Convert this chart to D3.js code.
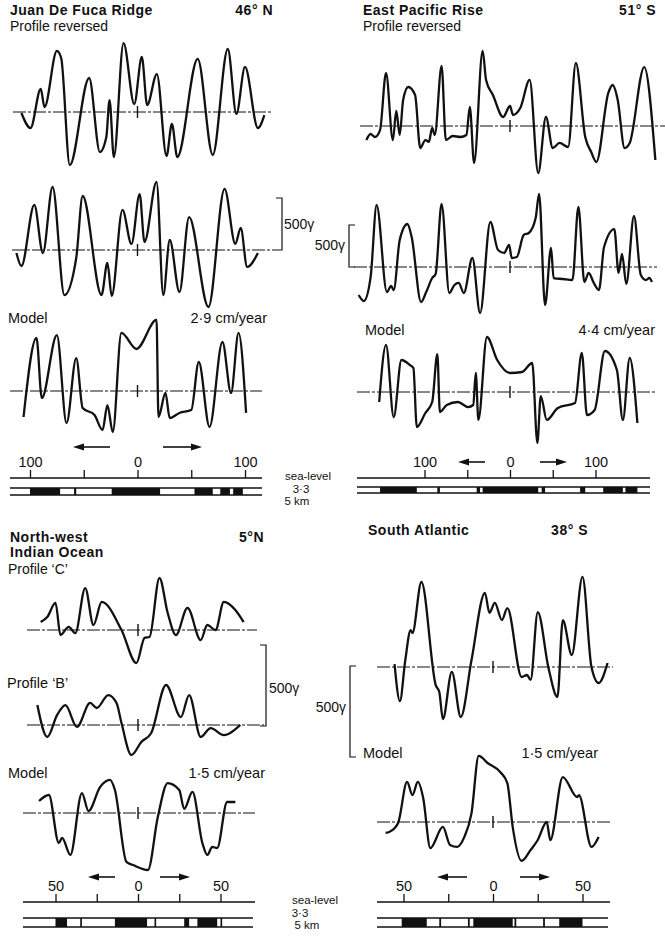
<!DOCTYPE html>
<html>
<head>
<meta charset="utf-8">
<script src="https://cdn.jsdelivr.net/npm/d3@7"></script>
<style>
body { margin: 0; background: #fff; }
text { font-family: "Liberation Sans", Arial, sans-serif; fill: #111; }
</style>
</head>
<body>
<svg id="fig" width="665" height="939"></svg>
<script>
// distances in km from the ridge axis, anomalies in gammas

// Juan de Fuca Ridge, 46 N
var jdfReversed = [[-108,-10],[-99.5,-154],[-90,221],[-86.5,48],[-75,587],[-71,519],[-63,-510],[-45,327],[-35,-385],[-29,-240],[-26,115],[-22,-433],[-13,663],[-3,77],[4,529],[9,67],[18,365],[27,-423],[32,-115],[37,-433],[56,510],[70,-413],[84,606],[92,-19],[100,433],[112,-154],[118,-29]];
var jdfProfile = [[-112.6,-29],[-108,-154],[-96,433],[-88,-29],[-79,606],[-68,-433],[-57,-77],[-51,519],[-33.5,-433],[-28,-125],[-24,-442],[-14,385],[-5.6,58],[2,538],[6.5,77],[17.7,654],[24,-433],[30,96],[39,-404],[48,317],[66,-548],[81,587],[91,58],[96,212],[102,-163],[112,-29]];
var jdfModel = [[-106,-250],[-94,510],[-89,-67],[-75,538],[-66,-308],[-57,317],[-51,-163],[-40,-231],[-32.5,-375],[-28,-135],[-23,-394],[-15,558],[-1,404],[17.7,683],[19.5,-250],[26,-19],[30,-260],[39,-211],[50,-183],[57,279],[67,-346],[79,471],[87,-19],[94,558],[101,-211]];
var jdfNormal = [[-100,-72],[-59,-57],[-24,21],[53,70],[77,86],[89,98]];

// East Pacific Rise, 51 S
var eprReversed = [[-168,-167],[-163,-95],[-158,-131],[-152,-48],[-145,631],[-137,-167],[-133,179],[-129,-107],[-125,310],[-119,464],[-111,369],[-105,-262],[-99,-167],[-95,-190],[-91,-24],[-88,-107],[-80,714],[-75,-167],[-67,-119],[-58,-131],[-51,-107],[-47,226],[-42,-440],[-32,893],[-28,548],[-20,369],[-8,107],[0,238],[3.5,131],[12,214],[23,548],[33,-560],[42,107],[50,-262],[58,-202],[68,-250],[77,750],[88,-131],[95,-310],[101,-429],[115,393],[120,488],[126,310],[134,-262],[140,-202],[157,702],[170,-405]];
var eprProfile = [[-177,-333],[-171,-405],[-163,-119],[-156,738],[-144,-298],[-139,-226],[-136,-274],[-129,321],[-120,512],[-115,357],[-104,-417],[-98,-298],[-91,-131],[-87,-83],[-80,750],[-71,-310],[-65,-214],[-60,-190],[-54,-310],[-44,107],[-35,-548],[-23,536],[-14,202],[-7,167],[-1,262],[2,107],[8,119],[16,381],[22,405],[30,583],[34,869],[41,-452],[48,226],[51,-131],[62,-143],[73,-155],[80,714],[87,-179],[92,-71],[98,-190],[104,-274],[110,238],[122,452],[127,-71],[131,155],[136,-202],[145,607],[153,-95],[159,-155],[163,-131],[166,-179]];
var eprModel = [[-153,-119],[-145,560],[-136,-298],[-127,381],[-117,321],[-113,286],[-109,-417],[-99,-250],[-91,-119],[-85,452],[-82,-238],[-74,-155],[-61,-119],[-49,-179],[-43,-155],[-40,226],[-37,-333],[-27,655],[-15,381],[0,226],[14,238],[26,345],[32,-607],[36,-48],[43,-333],[56,-190],[76,-131],[84,464],[90,-274],[99,-214],[111,488],[125,262],[132,-333],[140,405],[149,-369]];
var eprNormal = [[-152,-109],[-85,-82],[-39,-35],[-32,33],[37,41],[82,88],[109,132],[135,149]];

// North-west Indian Ocean, 5 N
var iocProfileC = [[-59,49],[-55,80],[-50,167],[-47,-31],[-42,19],[-38,-19],[-32,259],[-27,31],[-22,173],[-10,0],[-1,-204],[4,-49],[7,-43],[13,321],[18,105],[23,-31],[30,136],[38,-62],[42,31],[47,0],[52,173],[59,123],[64,49]];
var iocProfileB = [[-61,123],[-55,-74],[-49,62],[-44,123],[-37,-12],[-29,136],[-25,105],[-18,185],[-13,136],[-10,12],[-4,-185],[2,-105],[8,-49],[17,247],[26,49],[31,185],[38,-74],[44,-19],[52,-62],[62,0]];
var iocModel = [[-60,74],[-54,111],[-48,-185],[-46,-154],[-41,-259],[-34,123],[-30,12],[-23,160],[-17,204],[-14,142],[-7,-302],[-3,-321],[6,-352],[12,-25],[18,185],[25,142],[28,25],[33,130],[39,-185],[42,-259],[45,-210],[48,-216],[54,68],[59,68]];
var iocNormal = [[-50,-43],[-35,-34],[-14,5.5],[10,11],[28,31],[36,48],[50,51]];

// South Atlantic, 38 S
var satProfile = [[-55,16],[-52,-187],[-49,38],[-46,203],[-45,187],[-40,467],[-32,-99],[-30,-137],[-28,-286],[-23,-27],[-18,-275],[-12,38],[-4.5,407],[-2,297],[1,352],[5,258],[8,324],[16,-55],[19,-44],[21,-71],[25,302],[31,-5],[36,-165],[39,258],[44,66],[50,495],[55,0],[59,-88],[64,22]];
var satModel = [[-60,-60],[-58,-55],[-53,-5],[-48,220],[-45,148],[-42,220],[-39,132],[-35,-143],[-28,-27],[-24,-126],[-20,-137],[-16,-82],[-12,49],[-8,363],[-3,324],[4,275],[8,214],[11,-27],[16,-214],[21,-154],[25,-99],[30,0],[32,-99],[39,247],[47,137],[48,148],[55,-137],[59,-82]];
var satNormal = [[-51,-37],[-30,-29],[-14,-13],[-11,11],[12,13],[28,29],[37,50]];

var wideTicks = [-100,-50,0,50,100];
var wideLabels = [-100,0,100];
var narrowTicks = [-50,-25,0,25,50];
var narrowLabels = [-50,0,50];

var ink = "#111";
var svg = d3.select("#fig");
svg.append("rect").attr("width",665).attr("height",939).attr("fill","#fff");

function txt(x, y, s, size, bold, anchor) {
  var t = svg.append("text")
    .attr("x", x).attr("y", y)
    .attr("font-size", size || 14.5)
    .attr("font-weight", bold ? "bold" : "normal")
    .attr("text-anchor", anchor || "start")
    .text(s);
  if (bold) t.attr("letter-spacing", 0.5);
  return t;
}

function hline(x1, x2, y, w, dash) {
  var l = svg.append("line")
    .attr("x1", x1).attr("x2", x2).attr("y1", y).attr("y2", y)
    .attr("stroke", ink).attr("stroke-width", w || 1);
  if (dash) l.attr("stroke-dasharray", dash);
  return l;
}

function vline(x, y1, y2, w) {
  return svg.append("line")
    .attr("x1", x).attr("x2", x).attr("y1", y1).attr("y2", y2)
    .attr("stroke", ink).attr("stroke-width", w || 1.2);
}

function arrow(x1, x2, y) {
  var dir = x2 > x1 ? 1 : -1;
  hline(x1, x2 - dir * 8, y, 1.6);
  svg.append("path")
    .attr("d", "M" + x2 + "," + y + "L" + (x2 - dir * 11) + "," + (y - 3.5) + "L" + (x2 - dir * 11) + "," + (y + 3.5) + "Z")
    .attr("fill", ink);
}

function bracket(x, y1, y2, dir) {
  svg.append("path")
    .attr("d", "M" + (x + dir * 6) + "," + y1 + "H" + x + "V" + y2 + "H" + (x + dir * 6))
    .attr("fill", "none").attr("stroke", ink).attr("stroke-width", 1.2);
}

function drawPanel(p) {
  var x = d3.scaleLinear().domain(p.dom).range(p.rng);

  p.profiles.forEach(function (pr) {
    var y = d3.scaleLinear().domain([0, 500]).range([pr.base, pr.base - p.h500]);
    hline(pr.x1, pr.x2, pr.base, 1, "13,2,3,2");
    vline(x(0), pr.base - 6, pr.base + 6, 1.4);
    var line = d3.line()
      .x(function (d) { return x(d[0]); })
      .y(function (d) { return y(d[1]); })
      .curve(d3.curveMonotoneX);
    svg.append("path").datum(pr.data)
      .attr("d", line)
      .attr("fill", "none")
      .attr("stroke", ink)
      .attr("stroke-width", 2.3)
      .attr("stroke-linejoin", "round");
  });

  // distance scale
  var ax = svg.append("g")
    .attr("transform", "translate(0," + p.axisY + ")")
    .call(d3.axisTop(x).tickValues(p.ticks).tickSize(8).tickPadding(3)
      .tickFormat(function (d) { return p.labels.indexOf(d) >= 0 ? Math.abs(d) : ""; }));
  ax.select(".domain").remove();
  ax.selectAll("line").attr("stroke", ink).attr("stroke-width", 1.3);
  ax.selectAll("text").attr("font-size", 14.5).attr("fill", ink)
    .attr("font-family", "Liberation Sans, Arial, sans-serif");
  hline(p.lx1, p.lx2, p.axisY, 1.3);

  // magnetised blocks
  hline(p.lx1, p.bx2, p.barTop, 1.3);
  hline(p.lx1, p.bx2, p.barBot, 1.3);
  svg.append("g").selectAll("rect").data(p.normal).enter().append("rect")
    .attr("x", function (d) { return x(d[0]); })
    .attr("width", function (d) { return Math.max(1.5, x(d[1]) - x(d[0])); })
    .attr("y", p.barTop)
    .attr("height", p.barBot - p.barTop)
    .attr("fill", ink);

  arrow(p.arrows[0], p.arrows[1], p.arrowY);
  arrow(p.arrows[2], p.arrows[3], p.arrowY);
}

drawPanel({
  dom: [-100, 100], rng: [30, 245], h500: 52,
  profiles: [
    { data: jdfReversed, base: 112, x1: 13, x2: 273 },
    { data: jdfProfile, base: 250, x1: 12, x2: 276 },
    { data: jdfModel, base: 391, x1: 10, x2: 262 }
  ],
  ticks: wideTicks, labels: wideLabels, axisY: 478, lx1: 10, lx2: 262, bx2: 262,
  barTop: 488, barBot: 495, normal: jdfNormal,
  arrows: [110, 73, 163, 202], arrowY: 447
});

drawPanel({
  dom: [-100, 100], rng: [424.5, 595.5], h500: 42,
  profiles: [
    { data: eprReversed, base: 126, x1: 360, x2: 665 },
    { data: eprProfile, base: 267, x1: 354, x2: 657 },
    { data: eprModel, base: 392, x1: 357, x2: 657 }
  ],
  ticks: wideTicks, labels: wideLabels, axisY: 478, lx1: 357, lx2: 650, bx2: 650,
  barTop: 487, barBot: 493, normal: eprNormal,
  arrows: [485, 458, 540, 567], arrowY: 462
});

drawPanel({
  dom: [-50, 50], rng: [55.5, 220.5], h500: 81,
  profiles: [
    { data: iocProfileC, base: 630, x1: 27, x2: 257 },
    { data: iocProfileB, base: 725, x1: 27, x2: 264 },
    { data: iocModel, base: 813, x1: 23, x2: 255 }
  ],
  ticks: narrowTicks, labels: narrowLabels, axisY: 902, lx1: 23, lx2: 255, bx2: 253,
  barTop: 918, barBot: 927, normal: iocNormal,
  arrows: [115, 88, 160, 190], arrowY: 877
});

drawPanel({
  dom: [-50, 50], rng: [403.5, 582.5], h500: 91,
  profiles: [
    { data: satProfile, base: 667, x1: 377, x2: 613 },
    { data: satModel, base: 822, x1: 377, x2: 610 }
  ],
  ticks: narrowTicks, labels: narrowLabels, axisY: 902, lx1: 377, lx2: 610, bx2: 608,
  barTop: 918, barBot: 927, normal: satNormal,
  arrows: [467, 437, 520, 550], arrowY: 877
});

// 500 gamma brackets
bracket(282, 198, 250, -1);
txt(284, 229, "500\u03b3", 14);
bracket(349, 225, 267, 1);
txt(345, 250, "500\u03b3", 14, false, "end");
bracket(266, 645, 726, -1);
txt(269, 693, "500\u03b3", 14);
bracket(350, 666, 757, 1);
txt(346, 712, "500\u03b3", 14, false, "end");

// titles and labels
txt(10, 15, "Juan De Fuca Ridge", 14, true);
txt(273, 15, "46\u00b0 N", 14, true, "end");
txt(10, 31, "Profile reversed", 14);
txt(8, 323, "Model");
txt(267, 323, "2\u00b79 cm/year", 14.5, false, "end");

txt(363, 15, "East Pacific Rise", 14, true);
txt(656, 15, "51\u00b0 S", 14, true, "end");
txt(363, 31, "Profile reversed", 14);
txt(365, 335, "Model");
txt(655, 335, "4\u00b74 cm/year", 14.5, false, "end");

txt(10, 541.5, "North-west", 14, true);
txt(10, 557, "Indian Ocean", 14, true);
txt(264, 541.5, "5\u00b0N", 14, true, "end");
txt(8, 573.5, "Profile \u2018C\u2019", 14);
txt(7, 688, "Profile \u2018B\u2019");
txt(8, 778, "Model");
txt(265, 778, "1\u00b75 cm/year", 14.5, false, "end");

txt(368, 535, "South Atlantic", 14, true);
txt(588, 535, "38\u00b0 S", 14, true, "end");
txt(363, 758, "Model");
txt(598, 758, "1\u00b75 cm/year", 14.5, false, "end");

// depth legend between the panels
txt(308, 480, "sea-level", 11.5, false, "middle");
txt(301, 492.5, "3\u00b73", 11.5, false, "middle");
txt(297, 505, "5 km", 11.5, false, "middle");
txt(315, 904, "sea-level", 11.5, false, "middle");
txt(300, 916.5, "3\u00b73", 11.5, false, "middle");
txt(307, 929, "5 km", 11.5, false, "middle");
</script>
</body>
</html>
